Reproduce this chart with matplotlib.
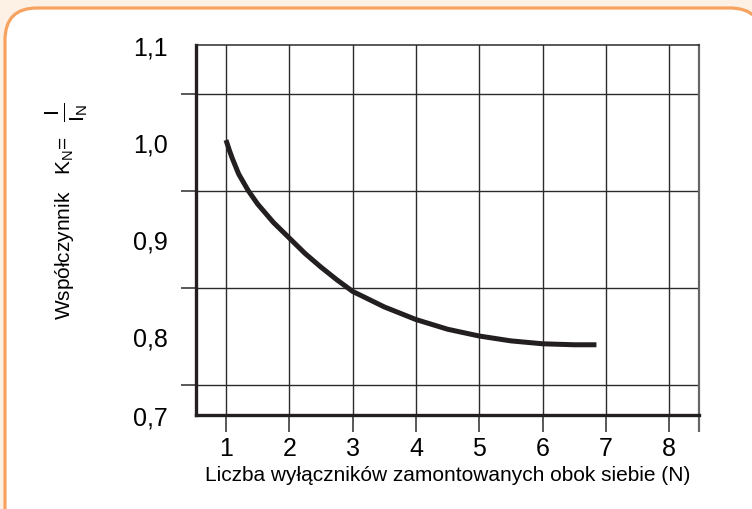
import matplotlib
matplotlib.use('Agg')
from matplotlib import pyplot as plt
from matplotlib.patches import FancyBboxPatch

plt.rcParams['font.family'] = ['Liberation Sans', 'DejaVu Sans']
plt.rcParams['mathtext.fontset'] = 'custom'
plt.rcParams['mathtext.rm'] = 'Liberation Sans'
plt.rcParams['mathtext.it'] = 'Liberation Sans'

##### DATA
n_breakers = [1.0, 1.05, 1.1, 1.2, 1.35, 1.5, 1.75, 2.0, 2.25, 2.5, 2.75, 3.0, 3.5,
              4.0, 4.5, 5.0, 5.5, 6.0, 6.5, 6.85]
k_factor = [1.002, 0.992, 0.983, 0.967, 0.950, 0.936, 0.917, 0.901, 0.885, 0.871, 0.858,
            0.846, 0.830, 0.817, 0.807, 0.800, 0.795, 0.792, 0.791, 0.791]

x_ticks = [1, 2, 3, 4, 5, 6, 7, 8]
x_labels = ['1', '2', '3', '4', '5', '6', '7', '8']
y_label_pos = [0.7186, 0.8, 0.9, 1.0, 1.1]
y_labels = ['0,7', '0,8', '0,9', '1,0', '1,1']
y_grid = [0.75, 0.8, 0.85, 0.9, 0.95, 1.0, 1.05]
X_LIM = (0.526, 8.47)
Y_LIM = (0.7186, 1.1)
##############

fig = plt.figure(figsize=(7.52, 5.10), dpi=100)
fig.patch.set_facecolor('#fdf1e6')

# rounded frame (in inches so corners stay round)
frame = FancyBboxPatch((0.05, -0.4), 7.57, 5.41, boxstyle='round,pad=0,rounding_size=0.32',
                       transform=fig.dpi_scale_trans, facecolor='white',
                       edgecolor='#f7a25e', linewidth=2.3, zorder=-1)
fig.patches.append(frame)

ax = fig.add_axes([196 / 752, 1 - 416 / 510, (699 - 196) / 752, (416 - 46) / 510])
ax.set_facecolor('white')

ax.plot(n_breakers, k_factor, color='#231f20', linewidth=3.6,
        solid_capstyle='butt', solid_joinstyle='round', zorder=5)

ax.set_xlim(*X_LIM)
ax.set_ylim(*Y_LIM)

# x ticks + grid
ax.set_xticks(x_ticks)
ax.set_xticklabels(x_labels, fontsize=18)
ax.set_xticks([X_LIM[1]], minor=True)
ax.tick_params(axis='x', which='both', direction='out', length=12, width=1.1,
               color='#2b2b2b', pad=3)
ax.tick_params(axis='x', which='minor', width=1.6, color='#666666')
ax.grid(axis='x', which='major', color='#2b2b2b', linewidth=1.0)

# y: labels on major (no tick mark), grid on minor
ax.set_yticks(y_label_pos)
ax.set_yticklabels(y_labels, fontsize=18)
ax.set_yticks(y_grid, minor=True)
ax.tick_params(axis='y', which='major', length=0, pad=20)
ax.tick_params(axis='y', which='minor', direction='out', length=11, width=1.1, color='#2b2b2b')
ax.grid(axis='y', which='minor', color='#2b2b2b', linewidth=1.0)

for side in ['left', 'bottom']:
    ax.spines[side].set_linewidth(2.4)
    ax.spines[side].set_color('#231f20')
ax.spines['top'].set_linewidth(1.1)
ax.spines['top'].set_color('#2b2b2b')
ax.spines['right'].set_linewidth(1.6)
ax.spines['right'].set_color('#666666')
for s in ax.spines.values():
    s.set_zorder(6)

ax.set_xlabel('Liczba wyłączników zamontowanych obok siebie (N)', fontsize=15, labelpad=4)

# y label: text part + a larger fraction I / I_N
fig.text(64 / 752, 1 - 228 / 510, r'Współczynnik   $\mathrm{K_N}$=',
         rotation=90, ha='center', va='center', fontsize=15)
fig.text(66 / 752, 1 - 112 / 510, r'$\frac{\mathrm{I}}{\mathrm{I_N}}$',
         rotation=90, ha='center', va='center', fontsize=22)

fig.savefig('out.png', dpi=100, facecolor=fig.get_facecolor())
